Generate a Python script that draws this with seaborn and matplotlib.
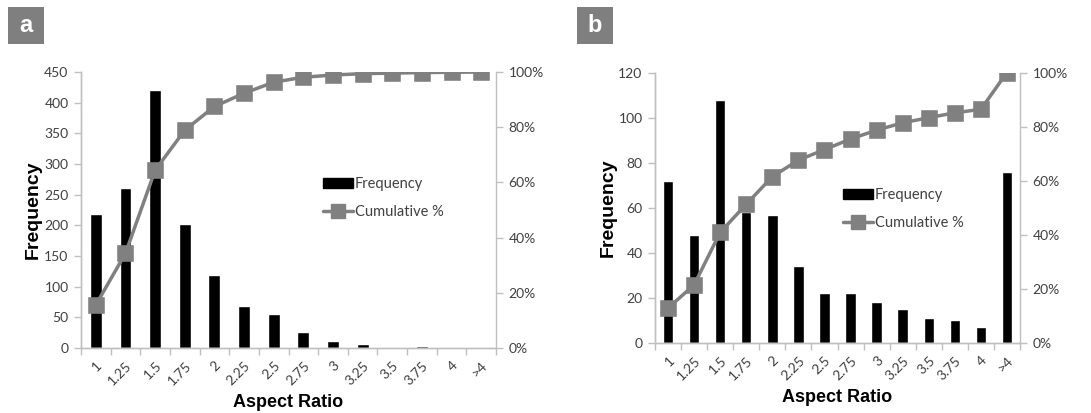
import matplotlib
matplotlib.use("Agg")
import matplotlib.pyplot as plt
from matplotlib.patches import Patch, Rectangle
from matplotlib.lines import Line2D
from matplotlib.ticker import FixedLocator, PercentFormatter
import numpy as np
import pandas as pd
import seaborn as sns

# Aspect-ratio bins shared by both panels
categories = ["1", "1.25", "1.5", "1.75", "2", "2.25", "2.5", "2.75",
              "3", "3.25", "3.5", "3.75", "4", ">4"]

# Panel a
freq_a = [218, 261, 420, 202, 119, 68, 55, 26, 11, 7, 2, 3, 1, 2]
cum_a = [15.6, 34.3, 64.4, 78.9, 87.5, 92.3, 96.3, 98.1, 98.9, 99.4, 99.6, 99.8, 99.9, 100.0]

# Panel b
freq_b = [72, 48, 108, 58, 57, 34, 22, 22, 18, 15, 11, 10, 7, 76]
cum_b = [12.9, 21.5, 40.9, 51.3, 61.5, 67.6, 71.5, 75.4, 78.7, 81.4, 83.3, 85.1, 86.4, 100.0]

left_ticks_a = [0, 50, 100, 150, 200, 250, 300, 350, 400, 450]
left_ticks_b = [0, 20, 40, 60, 80, 100, 120]
right_ticks = [0, 20, 40, 60, 80, 100]

sns.set_theme(style="white")
plt.rcParams["font.family"] = ["Lato", "DejaVu Sans"]

SPINE = "#bfbfbf"
TXT = "#404040"
LINE = "#808080"

fig = plt.figure(figsize=(10.91, 4.13), dpi=100)


def draw_panel(rect, freq, cum, lticks, letter, box_x, legend_anchor, ypad):
    ax = fig.add_axes(rect)
    df = pd.DataFrame({"AR": categories, "Frequency": freq, "Cum": cum})
    sns.barplot(data=df, x="AR", y="Frequency", order=categories, color="black",
                width=0.4, saturation=1, ax=ax, zorder=2)
    ax2 = ax.twinx()
    sns.pointplot(data=df, x="AR", y="Cum", order=categories, color=LINE,
                  markers="s", errorbar=None, ax=ax2,
                  markersize=9.5, linewidth=2.5)

    n = len(categories)
    for a in (ax, ax2):
        a.set_xlim(-0.5, n - 0.5)
    ax.set_ylim(0, lticks[-1])
    ax.set_yticks(lticks)
    ax2.set_ylim(0, 100)
    ax2.set_yticks(right_ticks)
    ax2.yaxis.set_major_formatter(PercentFormatter(decimals=0))
    ax2.set_ylabel("")
    ax2.set_xlabel("")

    ax.set_xticks(range(n))
    ax.set_xticklabels(categories, rotation=45, ha="right",
                       rotation_mode="anchor", color=TXT, fontsize=10)
    ax.xaxis.set_minor_locator(FixedLocator(np.arange(-0.5, n, 1.0)))
    ax.tick_params(axis="x", which="major", length=0, pad=8)
    ax.tick_params(axis="x", which="minor", length=5, width=1, color=SPINE,
                   direction="out", bottom=True)
    ax.tick_params(axis="y", length=5, width=1, color=SPINE, direction="out",
                   labelcolor=TXT, labelsize=10, left=True, pad=4)
    ax2.tick_params(axis="y", length=5, width=1, color=SPINE, direction="out",
                    labelcolor=TXT, labelsize=10, right=True, pad=4)

    for a in (ax, ax2):
        a.spines["top"].set_visible(False)
        for s in ("left", "right", "bottom"):
            a.spines[s].set_color(SPINE)
            a.spines[s].set_linewidth(1)
    ax.spines["right"].set_visible(False)

    ax.set_ylabel("Frequency", fontsize=14, fontweight="bold",
                  family="Liberation Sans", color="black", labelpad=ypad)
    ax.set_xlabel("Aspect Ratio", fontsize=13, fontweight="bold",
                  family="Liberation Sans", color="black", labelpad=5)

    handles = [Patch(facecolor="black", edgecolor="black", label="Frequency"),
               Line2D([0], [0], color=LINE, lw=2.5, marker="s", markersize=9.5,
                      label="Cumulative %")]
    leg = ax2.legend(handles=handles, loc="upper left",
                     bbox_to_anchor=legend_anchor, frameon=False,
                     fontsize=10.5, handlelength=2.0, handletextpad=0.15,
                     labelspacing=0.95, borderaxespad=0)
    for t in leg.get_texts():
        t.set_color(TXT)

    # panel letter badge
    bx, by, bw, bh = box_x, 1 - 44 / 413, 36 / 1091, 37 / 413
    fig.patches.append(Rectangle((bx, by), bw, bh, transform=fig.transFigure,
                                 facecolor="#7f7f7f", edgecolor="none"))
    fig.text(bx + bw / 2, by + bh / 2, letter, color="white", fontsize=17,
             fontweight="bold", ha="center", va="center",
             family="Liberation Sans")
    return ax, ax2


draw_panel([81 / 1091, 1 - 348 / 413, 415 / 1091, 276 / 413],
           freq_a, cum_a, left_ticks_a, "a", 8 / 1091, (0.57, 0.64), 2)
draw_panel([655 / 1091, 1 - 343 / 413, 365 / 1091, 270.5 / 413],
           freq_b, cum_b, left_ticks_b, "b", 577 / 1091, (0.50, 0.595), 1)

fig.savefig("out.png", dpi=100, facecolor="white")
